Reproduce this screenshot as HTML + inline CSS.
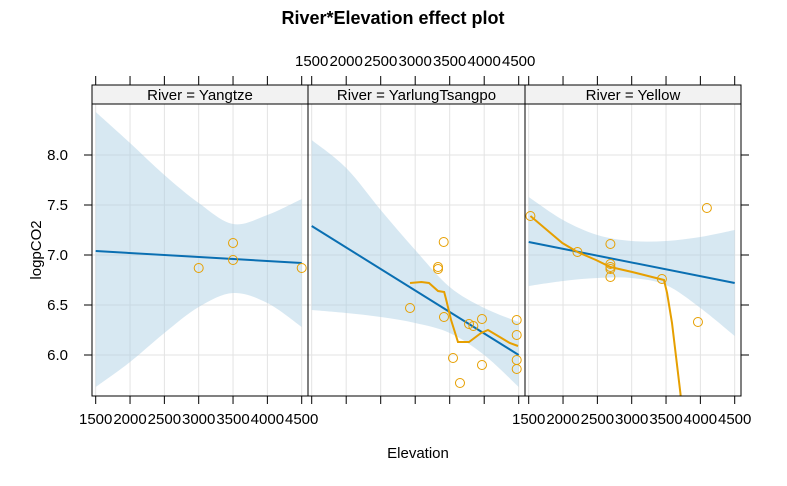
<!DOCTYPE html>
<html><head><meta charset="utf-8"><style>
body{margin:0;background:#fff;}
svg{display:block;font-family:"Liberation Sans",Arial,sans-serif;}
</style></head><body>
<svg id="c" width="787" height="486" xmlns="http://www.w3.org/2000/svg">
<text x="393" y="24" text-anchor="middle" font-size="18" font-weight="bold">River*Elevation effect plot</text>
<text x="418" y="458" text-anchor="middle" font-size="15">Elevation</text>
<text transform="translate(41,250) rotate(-90)" text-anchor="middle" font-size="15">logpCO2</text>
</svg>
<script>
const rivers=["Yangtze","YarlungTsangpo","Yellow"];
const xTicks=[1500,2000,2500,3000,3500,4000,4500];
const yTicks=[6.0,6.5,7.0,7.5,8.0];
// fitted line endpoints [at 1500, at 4500]
const fitY=[[7.04,6.92],[7.29,6.0],[7.13,6.72]];
// CI band
const ciX=[1500,2000,2500,3000,3500,4000,4500];
const ciUpper=[[8.43,8.12,7.8,7.52,7.31,7.40,7.56],[8.15,7.87,7.45,7.05,6.68,6.47,6.33],[7.58,7.35,7.2,7.14,7.14,7.18,7.25]];
const ciLower=[[5.68,5.93,6.22,6.48,6.62,6.52,6.28],[6.45,6.42,6.38,6.32,6.22,6.0,5.68],[6.69,6.74,6.77,6.77,6.7,6.47,6.19]];
// observed points
const ptX=[[3000,3500,3500,4500],
[3413,3331,3331,2925,3417,3780,3843,3968,4471,4471,4471,4471,3548,3968,3649],
[1525,2210,2690,2690,2690,2690,2690,3440,3965,4095]];
const ptY=[[6.87,7.12,6.95,6.87],
[7.13,6.88,6.86,6.47,6.38,6.31,6.29,6.36,6.35,6.20,5.95,5.86,5.97,5.90,5.72],
[7.39,7.03,7.11,6.91,6.88,6.86,6.78,6.76,6.33,7.47]];
// loess smooth
const smX=[[],
[2925,3090,3200,3331,3420,3450,3520,3620,3780,3955,4055,4225,4370,4490],
[1525,1800,1990,2210,2480,2690,3007,3297,3470,3515,3587,3709,3800]];
const smY=[[],
[6.72,6.73,6.72,6.64,6.63,6.55,6.35,6.13,6.13,6.22,6.25,6.18,6.12,6.09],
[7.39,7.23,7.12,7.03,6.95,6.88,6.83,6.78,6.75,6.62,6.32,5.62,5.0]];

const svgEl=document.getElementById('c');
const NS="http://www.w3.org/2000/svg";
function mk(tag,attrs,parent){const e=document.createElementNS(NS,tag);for(const k in attrs)e.setAttribute(k,attrs[k]);(parent||svgEl).appendChild(e);return e;}
function smooth(pts){let d='';for(let k=0;k<pts.length-1;k++){const p0=pts[Math.max(k-1,0)],p1=pts[k],p2=pts[k+1],p3=pts[Math.min(k+2,pts.length-1)];
  const c1=[p1[0]+(p2[0]-p0[0])/6,p1[1]+(p2[1]-p0[1])/6],c2=[p2[0]-(p3[0]-p1[0])/6,p2[1]-(p3[1]-p1[1])/6];
  d+='C'+c1.join(',')+' '+c2.join(',')+' '+p2.join(',');}return d;}
const panelL=[92,308,525];const panelW=[216,217,216];
const plotTop=104,plotBot=396,stripTop=85;
function yS(v){return 355-(v-6)*100;}
const defs=mk('defs',{});
rivers.forEach((r,i)=>{
  const L=panelL[i],R=L+panelW[i];
  const x0=L+3.7,x1=R-6.3;
  const xS=e=>x0+(e-1500)/3000*(x1-x0);
  const cp=mk('clipPath',{id:'cp'+i},defs);mk('rect',{x:L,y:plotTop,width:R-L,height:plotBot-plotTop},cp);
  const g=mk('g',{'clip-path':'url(#cp'+i+')'});
  
  
  xTicks.forEach(t=>{const l=mk('line',{x1:xS(t),x2:xS(t),y1:plotTop,y2:plotBot,stroke:'#e3e3e3','stroke-width':1},g);
    
    });
  yTicks.forEach(t=>{const l=mk('line',{x1:L,x2:R,y1:yS(t),y2:yS(t),stroke:'#e3e3e3','stroke-width':1},g);
    
    });
  const up=ciX.map((e,k)=>[xS(e),yS(ciUpper[i][k])]);
  const lo=ciX.map((e,k)=>[xS(e),yS(ciLower[i][k])]).reverse();
  const d='M'+up[0].join(',')+smooth(up)+'L'+lo[0].join(',')+smooth(lo)+'Z';
  const band=mk('path',{d:d,fill:'#a6cbe3','fill-opacity':0.45},g);
  
  
  const fl=mk('line',{x1:xS(1500),y1:yS(fitY[i][0]),x2:xS(4500),y2:yS(fitY[i][1]),stroke:'#0a6fb2','stroke-width':2},g);
  
  
  if(smX[i].length){const p=mk('polyline',{points:smX[i].map((e,k)=>xS(e)+','+yS(smY[i][k])).join(' '),fill:'none',stroke:'#e69f00','stroke-width':2},g);
    
    }
  ptX[i].forEach((e,k)=>{const c=mk('circle',{cx:xS(e),cy:yS(ptY[i][k]),r:4.5,fill:'none',stroke:'#e69f00','stroke-width':1});
    
    });
  const s=mk('rect',{x:L,y:stripTop,width:R-L,height:plotTop-stripTop,fill:'#f2f2f2',stroke:'#000','stroke-width':1});
  
  
  const st=mk('text',{x:(L+R)/2,y:100,'text-anchor':'middle','font-size':15});st.textContent='River = '+r;
  
  
  const fr=mk('rect',{x:L,y:plotTop,width:R-L,height:plotBot-plotTop,fill:'none',stroke:'#000','stroke-width':1});
  
  
  xTicks.forEach(t=>{
    mk('line',{x1:xS(t),x2:xS(t),y1:stripTop,y2:stripTop-9,stroke:'#000'});
    mk('line',{x1:xS(t),x2:xS(t),y1:plotBot,y2:plotBot+8,stroke:'#000'});
    const lbl=mk('text',{x:xS(t),y:(i==1?66:424),'text-anchor':'middle','font-size':15});
    lbl.textContent=t;
    
    
  });
});
yTicks.forEach(t=>{
  mk('line',{x1:84,x2:92,y1:yS(t),y2:yS(t),stroke:'#000'});
  mk('line',{x1:741,x2:749,y1:yS(t),y2:yS(t),stroke:'#000'});
  const lbl=mk('text',{x:68,y:yS(t)+5,'text-anchor':'end','font-size':15});lbl.textContent=t.toFixed(1);
  
  
});
</script>
</body></html>
